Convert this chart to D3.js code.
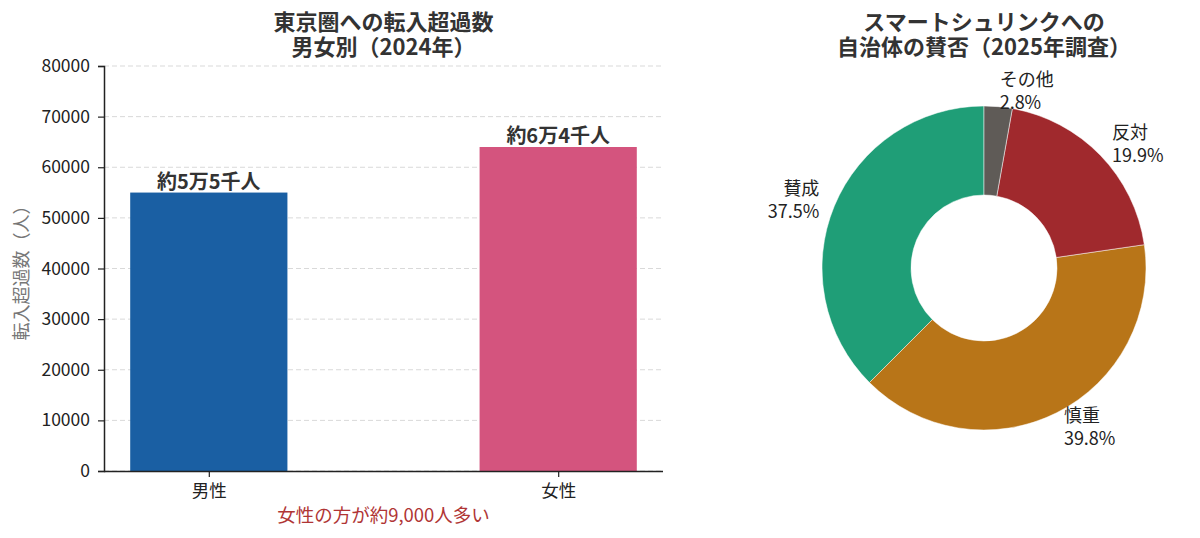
<!DOCTYPE html>
<html>
<head>
<meta charset="utf-8">
<script src="https://cdn.jsdelivr.net/npm/d3@7"></script>
<style>
  body { margin: 0; background: #fff; }
  svg { font-family: "Noto Sans CJK JP", "Noto Sans", sans-serif; }
</style>
</head>
<body>
<svg id="chart" width="1200" height="538"></svg>
<script>
// Left: net in-migration to Tokyo area by sex
const barCategories = ['男性', '女性'];
const barValues = [55000, 64000];
const barLabels = ['約5万5千人', '約6万4千人'];
const barColors = ['#1a5fa3', '#d4547e'];
const yTicks = [0, 10000, 20000, 30000, 40000, 50000, 60000, 70000, 80000];

// Right: municipalities' stance on smart shrink
const pieCategories = ['賛成', '慎重', '反対', 'その他'];
const pieValues = [37.5, 39.8, 19.9, 2.8];
const pieColors = ['#1f9e77', '#b87518', '#a0292d', '#5f5b57'];

const svg = d3.select('#chart');

// ---------- bar chart ----------
const margin = { left: 104, right: 663, top: 66, bottom: 471 };

const x = d3.scalePoint()
  .domain(barCategories)
  .range([margin.left, margin.right])
  .padding(0.3);
const barWidth = x.step() * 0.45;

const y = d3.scaleLinear()
  .domain([0, 80000])
  .range([margin.bottom, margin.top]);

// grid
svg.append('g')
  .selectAll('line')
  .data(yTicks)
  .enter()
  .append('line')
  .attr('x1', margin.left)
  .attr('x2', margin.right)
  .attr('y1', d => y(d))
  .attr('y2', d => y(d))
  .style('stroke', '#d9d9d9')
  .style('stroke-width', 1)
  .style('stroke-dasharray', '5,3');

// bars
svg.append('g')
  .selectAll('rect')
  .data(barValues)
  .enter()
  .append('rect')
  .attr('x', (d, i) => x(barCategories[i]) - barWidth / 2)
  .attr('y', d => y(d))
  .attr('width', barWidth)
  .attr('height', d => y(0) - y(d))
  .style('fill', (d, i) => barColors[i]);

// bar value labels
svg.append('g')
  .selectAll('text')
  .data(barValues)
  .enter()
  .append('text')
  .attr('x', (d, i) => x(barCategories[i]))
  .attr('y', d => y(d) - 4)
  .attr('text-anchor', 'middle')
  .style('font-size', '20px')
  .style('font-weight', 'bold')
  .style('fill', '#333')
  .text((d, i) => barLabels[i]);

// axes
const yAxis = svg.append('g')
  .attr('transform', `translate(${margin.left},0)`)
  .call(d3.axisLeft(y).tickValues(yTicks).tickFormat(d3.format('d')).tickSizeOuter(0).tickSize(6).tickPadding(8));

const xAxis = svg.append('g')
  .attr('transform', `translate(0,${margin.bottom})`)
  .call(d3.axisBottom(x).tickSizeOuter(0).tickSize(6).tickPadding(8));

xAxis.select('.domain').attr('d', `M${margin.left},0.5H${margin.right}`);

[yAxis, xAxis].forEach(ax => {
  ax.select('.domain').style('stroke', '#222').style('stroke-width', 1.5);
  ax.selectAll('.tick line').style('stroke', '#222').style('stroke-width', 1.2);
  ax.selectAll('text')
    .style('font-family', '"Noto Sans CJK JP", sans-serif')
    .style('font-size', '17.5px')
    .style('fill', '#222');
});

// y axis label
svg.append('text')
  .attr('transform', `translate(28,${(margin.top + margin.bottom) / 2}) rotate(-90)`)
  .attr('text-anchor', 'middle')
  .style('font-size', '18px')
  .style('fill', '#777')
  .text('転入超過数（人）');

// titles
const barTitle = svg.append('text')
  .attr('text-anchor', 'middle')
  .style('font-size', '22px')
  .style('font-weight', 'bold')
  .style('fill', '#333');
barTitle.append('tspan').attr('x', (margin.left + margin.right) / 2).attr('y', 30).text('東京圏への転入超過数');
barTitle.append('tspan').attr('x', (margin.left + margin.right) / 2).attr('y', 55).text('男女別（2024年）');

// annotation
svg.append('text')
  .attr('x', (margin.left + margin.right) / 2)
  .attr('y', 522)
  .attr('text-anchor', 'middle')
  .style('font-size', '18.5px')
  .style('fill', '#b03535')
  .text('女性の方が約9,000人多い');

// ---------- donut ----------
const cx = 984, cy = 268;
const outerR = 162, innerR = 73;

const pie = d3.pie()
  .sort(null)
  .startAngle(0)
  .endAngle(-2 * Math.PI);

const arcs = pie(pieValues);
const arc = d3.arc().innerRadius(innerR).outerRadius(outerR);

const donut = svg.append('g').attr('transform', `translate(${cx},${cy})`);

donut.selectAll('path')
  .data(arcs)
  .enter()
  .append('path')
  .attr('d', arc)
  .style('fill', (d, i) => pieColors[i])
  .style('stroke', '#fff')
  .style('stroke-width', 0.5);

// labels at 1.1 * radius
const labelR = outerR * 1.1;
donut.selectAll('.pie-label')
  .data(arcs)
  .enter()
  .append('text')
  .attr('class', 'pie-label')
  .each(function(d, i) {
    const a = (d.startAngle + d.endAngle) / 2;
    const lx = labelR * Math.sin(a);
    const ly = -labelR * Math.cos(a);
    const anchor = lx >= 0 ? 'start' : 'end';
    const t = d3.select(this)
      .attr('text-anchor', anchor)
      .style('font-size', '18px')
      .style('fill', '#222');
    t.append('tspan').attr('x', lx).attr('y', ly - 5).text(pieCategories[i]);
    t.append('tspan').attr('x', lx).attr('y', ly + 18).text(pieValues[i].toFixed(1) + '%');
  });

const pieTitle = svg.append('text')
  .attr('text-anchor', 'middle')
  .style('font-size', '22px')
  .style('font-weight', 'bold')
  .style('fill', '#333');
pieTitle.append('tspan').attr('x', cx).attr('y', 30).text('スマートシュリンクへの');
pieTitle.append('tspan').attr('x', cx).attr('y', 55).text('自治体の賛否（2025年調査）');
</script>
</body>
</html>
